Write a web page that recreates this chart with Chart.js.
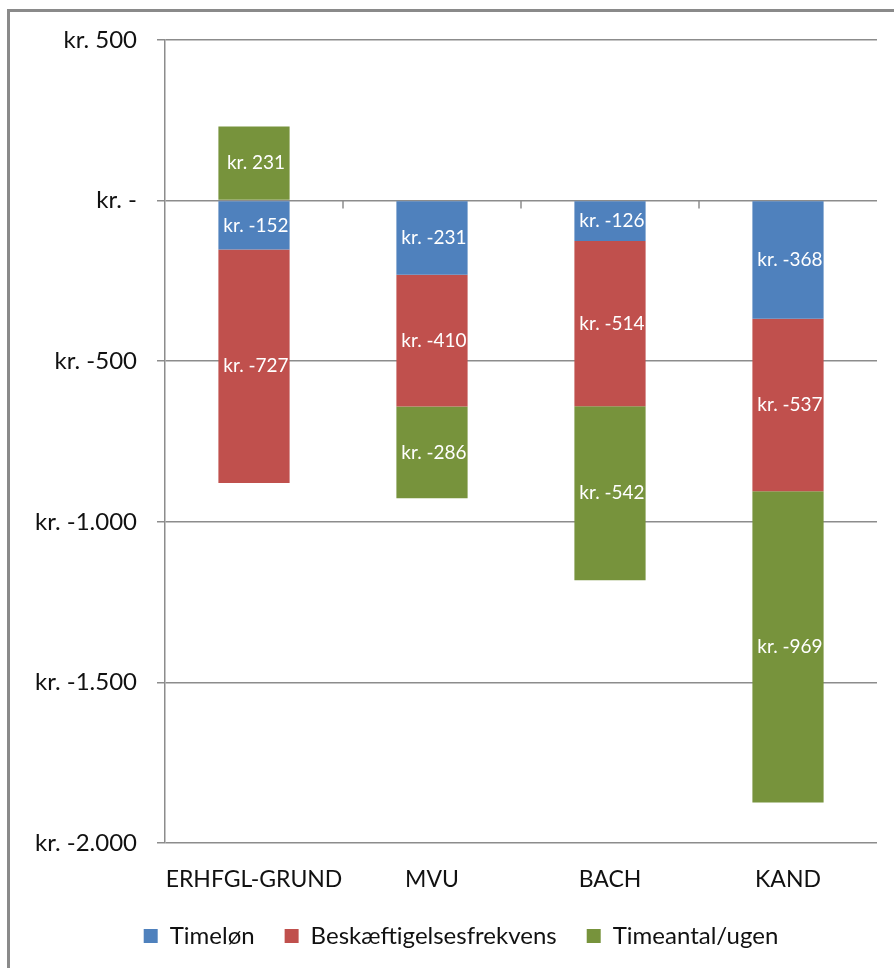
<!DOCTYPE html>
<html>
<head>
<meta charset="utf-8">
<script src="https://cdn.jsdelivr.net/npm/chart.js@4/dist/chart.umd.min.js"></script>
<style>
  html, body { margin: 0; padding: 0; background: #fff; overflow: hidden; }
  #frame { position: absolute; left: 7px; top: 9px; width: 1000px; height: 1000px;
           border-top: 3px solid #8a8a8a; border-left: 3px solid #8a8a8a; }
  #wrap { position: absolute; left: 0; top: 0; width: 894px; height: 968px; overflow: hidden; }
</style>
</head>
<body>
<div id="frame"></div>
<div id="wrap"><canvas id="c" width="912" height="968"></canvas></div>
<script>
const categories = ['ERHFGL-GRUND', 'MVU', 'BACH', 'KAND'];
const seriesNames = ['Timeløn', 'Beskæftigelsesfrekvens', 'Timeantal/ugen'];
const timeloen = [-152, -231, -126, -368];
const beskaeftigelse = [-727, -410, -514, -537];
const timeantal = [231, -286, -542, -969];
const yTickValues = [500, 0, -500, -1000, -1500, -2000];
const yTickLabels = ['kr. 500', 'kr. -', 'kr. -500', 'kr. -1.000', 'kr. -1.500', 'kr. -2.000'];
const seriesColors = ['#4F81BD', '#C0504D', '#77933C'];

const FONT = "Lato, 'Open Sans', 'Liberation Sans', sans-serif";
const GRID = '#8c8c8c';

function fmtKr(v) {
  const s = Math.abs(v).toString().replace(/\B(?=(\d{3})+(?!\d))/g, '.');
  return 'kr. ' + (v < 0 ? '-' : '') + s;
}

const valueLabels = {
  id: 'valueLabels',
  afterDatasetsDraw(chart) {
    const ctx = chart.ctx;
    ctx.save();
    ctx.font = '19px ' + FONT;
    ctx.fillStyle = '#ffffff';
    ctx.textAlign = 'center';
    ctx.textBaseline = 'middle';
    chart.data.datasets.forEach((ds, di) => {
      const meta = chart.getDatasetMeta(di);
      meta.data.forEach((bar, i) => {
        const p = bar.getProps(['x', 'y', 'base'], true);
        ctx.fillText(fmtKr(ds.data[i]), p.x + 2, (p.y + p.base) / 2);
      });
    });
    ctx.restore();
  }
};

const zeroTicks = {
  id: 'zeroTicks',
  afterDatasetsDraw(chart) {
    const xs = chart.scales.x, ys = chart.scales.y;
    const y0 = ys.getPixelForValue(0);
    const ctx = chart.ctx;
    ctx.save();
    ctx.strokeStyle = GRID;
    ctx.lineWidth = 1.5;
    for (let i = 1; i < categories.length; i++) {
      const xb = (xs.getPixelForValue(i - 1) + xs.getPixelForValue(i)) / 2;
      ctx.beginPath();
      ctx.moveTo(xb, y0);
      ctx.lineTo(xb, y0 + 8);
      ctx.stroke();
    }
    ctx.restore();
  }
};

new Chart(document.getElementById('c'), {
  type: 'bar',
  data: {
    labels: categories,
    datasets: [
      { label: seriesNames[0], data: timeloen, backgroundColor: seriesColors[0] },
      { label: seriesNames[1], data: beskaeftigelse, backgroundColor: seriesColors[1] },
      { label: seriesNames[2], data: timeantal, backgroundColor: seriesColors[2] }
    ]
  },
  options: {
    responsive: false,
    animation: false,
    devicePixelRatio: 1,
    layout: { padding: { left: 10, right: 0, top: 40, bottom: 10 } },
    datasets: { bar: { barPercentage: 0.4, categoryPercentage: 1, borderWidth: 0 } },
    scales: {
      x: {
        stacked: true,
        grid: { display: false, drawTicks: false },
        border: { display: false },
        ticks: {
          padding: 23, color: '#111', font: { family: FONT, size: 23 },
          maxRotation: 0, minRotation: 0, autoSkip: false
        },
        afterFit(s) { s.height = 51; }
      },
      y: {
        stacked: true,
        min: -2000,
        max: 500,
        afterBuildTicks(s) { s.ticks = yTickValues.map(v => ({ value: v })); },
        afterFit(s) { s.width = 155; },
        grid: { color: GRID, lineWidth: 1.5, tickLength: 8, drawTicks: true },
        border: { display: true, color: GRID, width: 1.5 },
        ticks: {
          padding: 20,
          color: '#111',
          font: { family: FONT, size: 24 },
          callback(v) { const i = yTickValues.indexOf(v); return i >= 0 ? yTickLabels[i] : ''; }
        }
      },
      yRight: {
        position: 'right',
        display: true,
        grid: { display: false, drawTicks: false },
        border: { display: false },
        ticks: { display: false },
        afterFit(s) { s.width = 35; }
      }
    },
    plugins: {
      tooltip: { enabled: false },
      legend: {
        position: 'bottom',
        labels: {
          boxWidth: 14, boxHeight: 14, padding: 30,
          color: '#111',
          font: { family: FONT, size: 24 }
        }
      }
    }
  },
  plugins: [valueLabels, zeroTicks]
});
</script>
</body>
</html>
